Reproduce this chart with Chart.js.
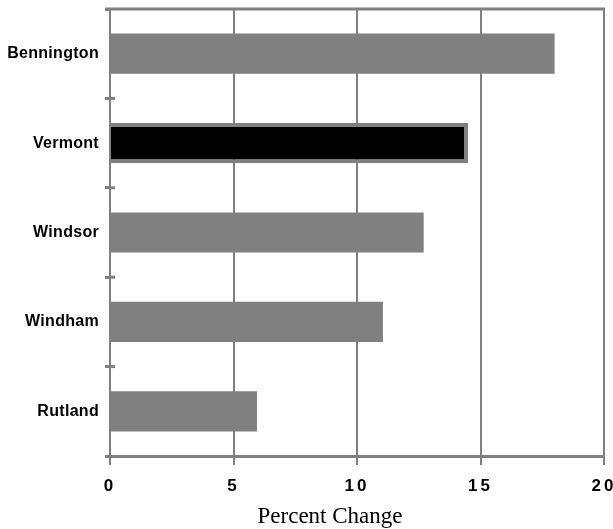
<!DOCTYPE html>
<html>
<head>
<meta charset="utf-8">
<script src="https://cdn.jsdelivr.net/npm/chart.js@4.4.1/dist/chart.umd.min.js"></script>
<style>
    html, body { margin: 0; padding: 0; background: #fff; }
    #wrap { width: 613px; height: 529px; }
</style>
</head>
<body>
<div id="wrap"><canvas id="chart" width="613" height="529"></canvas></div>
<script>
// ===== Veri =====
const regions = ['Bennington', 'Vermont', 'Windsor', 'Windham', 'Rutland'];
const percentChange = [18.0, 14.5, 12.7, 11.05, 5.95];
const barColors = ['#808080', '#000000', '#808080', '#808080', '#808080'];
const xTickValues = [0, 5, 10, 15, 20];
const axisTitle = 'Percent Change';

const GRAY = '#808080';
const SANS = "'Liberation Sans', Arial, sans-serif";

// Harf aralığı: eksen etiketlerini çizerken ctx.letterSpacing ayarla
const labelSpacing = { x: '3px', y: '0.3px' };
const letterSpacingPlugin = {
    id: 'letterSpacing',
    beforeDraw(chart) {
        Object.values(chart.scales).forEach(scale => {
            if (scale._spacingPatched) return;
            const orig = scale.drawLabels;
            scale.drawLabels = function (area) {
                const ctx = this.ctx;
                ctx.save();
                ctx.letterSpacing = labelSpacing[this.id] || '0px';
                orig.call(this, area);
                ctx.restore();
            };
            scale._spacingPatched = true;
        });
    }
};

// Alt başlık biraz sola kaymış duruyor: başlık kutusunun sol kenarını daralt
const titleShiftPlugin = {
    id: 'titleShift',
    afterLayout(chart) {
        if (chart.titleBlock) chart.titleBlock.left = 56;
    }
};

// Üst çizgi ve kategori çentiklerinin sağ tarafı
const framePlugin = {
    id: 'frame',
    afterDraw(chart) {
        const { ctx, chartArea, scales } = chart;
        const y = scales.y;
        ctx.save();
        ctx.strokeStyle = GRAY;
        ctx.lineWidth = 3;
        ctx.beginPath();
        ctx.moveTo(chartArea.left - 5, chartArea.top);
        ctx.lineTo(chartArea.right + 1, chartArea.top);
        ctx.stroke();
        for (let i = 1; i < regions.length; i++) {
            const py = y.getPixelForValue(i - 0.5);
            ctx.beginPath();
            ctx.moveTo(chartArea.left, py);
            ctx.lineTo(chartArea.left + 5, py);
            ctx.stroke();
        }
        ctx.restore();
    }
};

new Chart(document.getElementById('chart'), {
    type: 'bar',
    data: {
        labels: regions,
        datasets: [{
            data: percentChange,
            backgroundColor: barColors,
            borderColor: GRAY,
            borderWidth: percentChange.map((v, i) => barColors[i] === '#000000' ? 4 : 0),
            borderSkipped: 'start',
            categoryPercentage: 0.45,
            barPercentage: 1
        }]
    },
    options: {
        indexAxis: 'y',
        responsive: false,
        animation: false,
        layout: { padding: { top: 9, left: 0, right: 9, bottom: 0 } },
        plugins: {
            legend: { display: false },
            tooltip: { enabled: false },
            title: {
                display: true,
                position: 'bottom',
                text: axisTitle,
                color: '#000',
                font: { family: "'Liberation Serif', 'Times New Roman', serif", size: 23, weight: 'normal', lineHeight: 1 },
                padding: { top: 10, bottom: 1 }
            }
        },
        scales: {
            x: {
                min: 0,
                max: 20,
                afterBuildTicks: scale => { scale.ticks = xTickValues.map(v => ({ value: v })); },
                afterFit: scale => { scale.height = 39; scale.paddingLeft = 0; scale.paddingRight = 0; },
                grid: { color: GRAY, lineWidth: 2, drawTicks: true, tickLength: 9, tickColor: GRAY, tickWidth: 2 },
                border: { color: GRAY, width: 3 },
                ticks: {
                    color: '#000',
                    padding: 11,
                    maxRotation: 0,
                    font: { family: SANS, size: 17, weight: 'bold' }
                }
            },
            y: {
                offset: true,
                afterFit: scale => { scale.width = 110; scale.paddingTop = 0; scale.paddingBottom = 0; },
                grid: {
                    offset: true,
                    drawOnChartArea: false,
                    drawTicks: true,
                    tickLength: 5,
                    color: GRAY,
                    lineWidth: 3
                },
                border: { color: GRAY, width: 2 },
                ticks: {
                    color: '#000',
                    padding: 6,
                    font: { family: SANS, size: 16, weight: 'bold' }
                }
            }
        }
    },
    plugins: [letterSpacingPlugin, titleShiftPlugin, framePlugin]
});
</script>
</body>
</html>
